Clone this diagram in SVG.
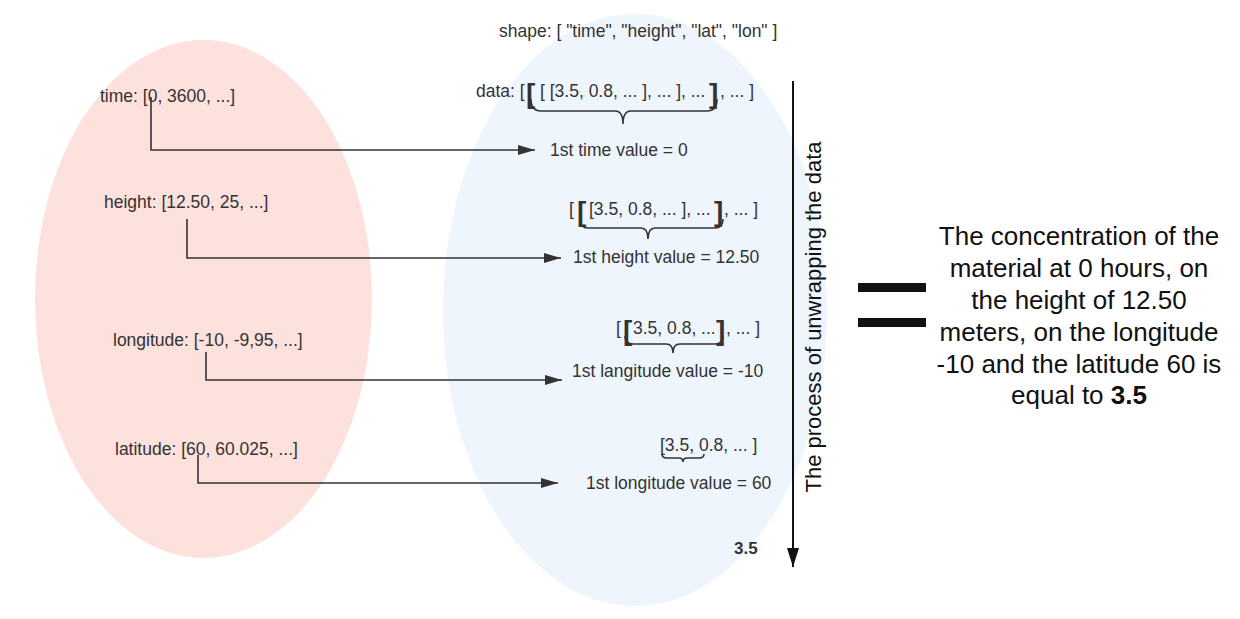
<svg xmlns="http://www.w3.org/2000/svg" width="1240" height="619" viewBox="0 0 1240 619">
<style>
  text { font-family: "Liberation Sans", Arial, sans-serif; fill: #333; }
  .lbl { font-size: 17.5px; }
  .big { font-size: 28px; font-weight: bold; }
  .conn { fill: none; stroke: #333; stroke-width: 1.6; }
  .brace { fill: none; stroke: #333; stroke-width: 1.6; }
  .res { font-size: 26px; fill: #111; }
</style>
<defs>
  <marker id="arr" markerUnits="userSpaceOnUse" markerWidth="17" markerHeight="10" refX="17" refY="5" orient="auto">
    <path d="M0,0 L17,5 L0,10 z" fill="#333"/>
  </marker>
  <marker id="arrBig" markerUnits="userSpaceOnUse" markerWidth="12" markerHeight="19" refX="6" refY="19" orient="0">
    <path d="M0,0 L12,0 L6,19 z" fill="#111"/>
  </marker>
</defs>
<rect width="1240" height="619" fill="#ffffff"/>

<g id="dimensions">
  <ellipse cx="203.5" cy="299" rx="168.5" ry="259" fill="#fde1dc"/>
  <text class="lbl" x="100" y="102">time: [0, 3600, ...]</text>
  <text class="lbl" x="104" y="208">height: [12.50, 25, ...]</text>
  <text class="lbl" x="113" y="346">longitude: [-10, -9,95, ...]</text>
  <text class="lbl" x="115" y="455">latitude: [60, 60.025, ...]</text>
</g>

<g id="data">
  <ellipse cx="635" cy="310" rx="192" ry="296" fill="#eef5fd"/>
  <text class="lbl" x="499" y="37">shape: [ "time", "height", "lat", "lon" ]</text>

  <text class="lbl" x="476" y="97">data: [</text>
  <text class="big" x="526" y="103">[</text>
  <text class="lbl" x="540" y="97">[ [3.5, 0.8, ... ], ... ], ...</text>
  <text class="big" x="709" y="103">]</text>
  <text class="lbl" x="720" y="97">, ... ]</text>
  <path class="brace" d="M531,99 Q531,111 541,111 L615,111 Q623,111 623,124 Q623,111 631,111 L707,111 Q717,111 717,99"/>
  <text class="lbl" x="550" y="156">1st time value = 0</text>

  <text class="lbl" x="569" y="215">[</text>
  <text class="big" x="577" y="221">[</text>
  <text class="lbl" x="589" y="215">[3.5, 0.8, ... ], ...</text>
  <text class="big" x="714" y="221">]</text>
  <text class="lbl" x="724" y="215">, ... ]</text>
  <path class="brace" d="M580,219 Q580,228 588,228 L641,228 Q648,228 648,239 Q648,228 655,228 L715,228 Q723,228 723,219"/>
  <text class="lbl" x="573" y="263">1st height value = 12.50</text>

  <text class="lbl" x="616" y="334">[</text>
  <text class="big" x="623" y="340">[</text>
  <text class="lbl" x="633" y="334">3.5, 0.8, ...</text>
  <text class="big" x="716" y="340">]</text>
  <text class="lbl" x="726" y="334">, ... ]</text>
  <path class="brace" d="M625,336 Q625,344 633,344 L666,344 Q673,344 673,353 Q673,344 680,344 L715,344 Q723,344 723,336"/>
  <text class="lbl" x="572" y="377">1st langitude value = -10</text>

  <text class="lbl" x="660" y="451">[3.5, 0.8, ... ]</text>
  <path class="brace" d="M662,454 Q662,458 667,458 L679,458 Q683,458 683,462 Q683,458 687,458 L699,458 Q704,458 704,454"/>
  <text class="lbl" x="586" y="489">1st longitude value = 60</text>

  <text x="734" y="554" style="font-size:17px;font-weight:bold;">3.5</text>
</g>

<g id="process">
  <line x1="793" y1="81" x2="793" y2="567" stroke="#111" stroke-width="2" marker-end="url(#arrBig)"/>
  <text transform="translate(821,317) rotate(-90)" text-anchor="middle" style="font-size:22px;fill:#111;">The process of unwrapping the data</text>
</g>

<g id="connectors">
  <polyline class="conn" points="151,97 151,150 535,150" marker-end="url(#arr)"/>
  <polyline class="conn" points="187,219 187,258 561,258" marker-end="url(#arr)"/>
  <polyline class="conn" points="206,352 206,380 562,380" marker-end="url(#arr)"/>
  <polyline class="conn" points="198,455 198,483 558,483" marker-end="url(#arr)"/>
</g>

<g id="equals">
  <rect x="858" y="283" width="68" height="9" fill="#111"/>
  <rect x="858" y="318" width="68" height="9" fill="#111"/>
</g>

<g id="result">
  <text class="res" text-anchor="middle" x="1079" y="245">The concentration of the</text>
  <text class="res" text-anchor="middle" x="1079" y="277">material at 0 hours, on</text>
  <text class="res" text-anchor="middle" x="1079" y="309">the height of 12.50</text>
  <text class="res" text-anchor="middle" x="1079" y="341">meters, on the longitude</text>
  <text class="res" text-anchor="middle" x="1079" y="373">-10 and the latitude 60 is</text>
  <text class="res" text-anchor="middle" x="1079" y="404">equal to <tspan font-weight="bold">3.5</tspan></text>
</g>
</svg>
